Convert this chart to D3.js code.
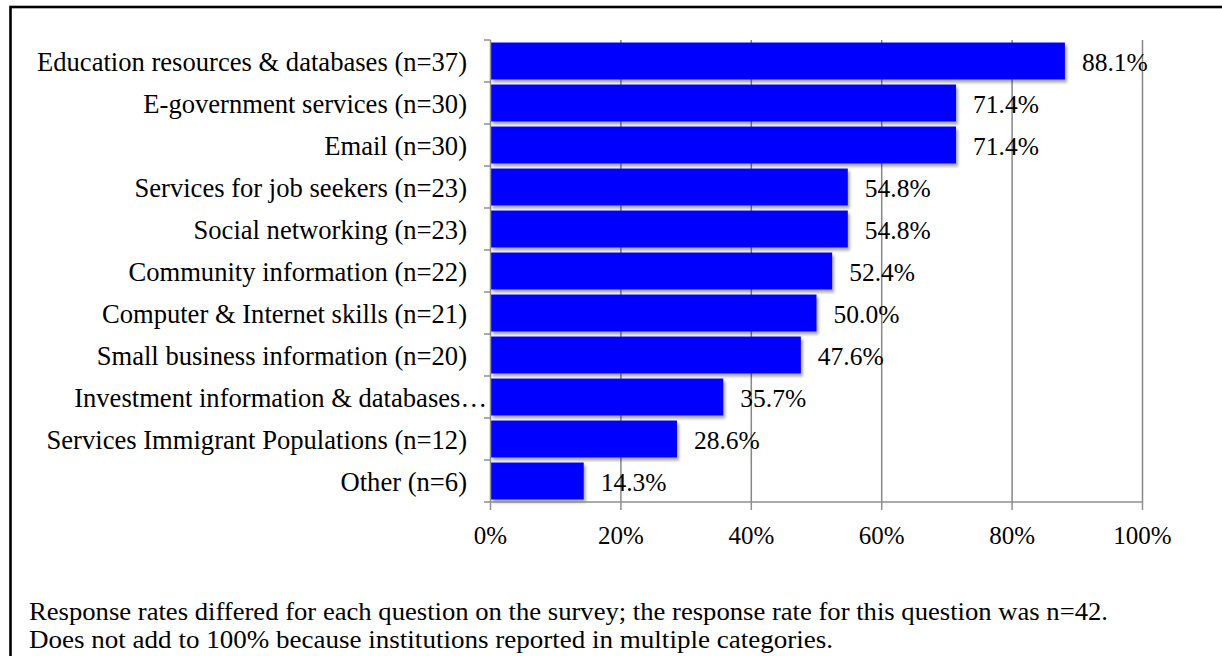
<!DOCTYPE html>
<html>
<head>
<meta charset="utf-8">
<script src="https://cdn.jsdelivr.net/npm/d3@7"></script>
<style>
  html, body { margin: 0; padding: 0; background: #fff; }
  svg { display: block; }
  svg text { font-family: "Liberation Serif", "Times New Roman", Times, serif; fill: #000; }
</style>
</head>
<body>
<svg id="chart" width="1222" height="656"></svg>
<script>
const categories = [
  "Education resources & databases (n=37)",
  "E-government services (n=30)",
  "Email (n=30)",
  "Services for job seekers (n=23)",
  "Social networking (n=23)",
  "Community information (n=22)",
  "Computer & Internet skills (n=21)",
  "Small business information (n=20)",
  "Investment information & databases…",
  "Services Immigrant Populations (n=12)",
  "Other (n=6)"
];
const values = [88.1, 71.4, 71.4, 54.8, 54.8, 52.4, 50.0, 47.6, 35.7, 28.6, 14.3];
const xTicks = [0, 20, 40, 60, 80, 100];
const notes = [
  "Response rates differed for each question on the survey; the response rate for this question was n=42.",
  "Does not add to 100% because institutions reported in multiple categories."
];

const svg = d3.select("#chart");
const FONT = '"Liberation Serif", "Times New Roman", Times, serif';

svg.append("rect")
  .attr("x", 10.5).attr("y", 7).attr("width", 1400).attr("height", 800)
  .attr("fill", "none").attr("stroke", "#000").attr("stroke-width", 2.6);

const x = d3.scaleLinear().domain([0, 100]).range([490.5, 1142.5]);
const y = d3.scaleBand().domain(categories).range([40, 502]).paddingInner(0.12).paddingOuter(0.06);

const defs = svg.append("defs");
const f = defs.append("filter").attr("id", "shadow")
  .attr("x", "-5%").attr("y", "-20%").attr("width", "115%").attr("height", "150%");
f.append("feDropShadow").attr("dx", 2).attr("dy", 3).attr("stdDeviation", 1.6)
  .attr("flood-color", "#000").attr("flood-opacity", 0.35);

svg.append("g").selectAll("line").data(xTicks.filter(d => d > 0)).join("line")
  .attr("x1", d => x(d)).attr("x2", d => x(d))
  .attr("y1", 40).attr("y2", 502)
  .attr("stroke", "#878787").attr("stroke-width", 1.5);

svg.append("g").selectAll("rect").data(values).join("rect")
  .attr("x", x(0))
  .attr("y", (d, i) => y(categories[i]))
  .attr("width", d => x(d) - x(0))
  .attr("height", y.bandwidth())
  .attr("fill", "#0000FF")
  .attr("filter", "url(#shadow)");

const ax = "#8f8f8f";
svg.append("line").attr("x1", x(0)).attr("x2", x(0)).attr("y1", 40).attr("y2", 502)
  .attr("stroke", ax).attr("stroke-width", 1.5);
const bounds = d3.range(categories.length + 1).map(i => 40 + i * y.step());
svg.append("g").selectAll("line").data(bounds).join("line")
  .attr("x1", x(0) - 6.5).attr("x2", x(0)).attr("y1", d => d).attr("y2", d => d)
  .attr("stroke", ax).attr("stroke-width", 1.5);

svg.append("line").attr("x1", x(0)).attr("x2", x(100)).attr("y1", 502).attr("y2", 502)
  .attr("stroke", ax).attr("stroke-width", 1.5);
svg.append("g").selectAll("line").data(xTicks).join("line")
  .attr("x1", d => x(d)).attr("x2", d => x(d)).attr("y1", 502).attr("y2", 510)
  .attr("stroke", ax).attr("stroke-width", 1.5);

function styleText(sel, size) {
  return sel.style("font-family", FONT).style("font-size", size).style("fill", "#000");
}

styleText(svg.append("g").selectAll("text").data(xTicks).join("text")
  .attr("x", d => x(d)).attr("y", 544)
  .attr("text-anchor", "middle")
  .text(d => d + "%"), "25px");

// truncated labels (ending with an ellipsis) overflow toward the axis
styleText(svg.append("g").selectAll("text").data(categories).join("text")
  .attr("x", d => d.endsWith("…") ? 487 : 467)
  .attr("y", d => y(d) + y.bandwidth() / 2 + 9.5)
  .attr("text-anchor", "end")
  .text(d => d), "26.6px");

styleText(svg.append("g").selectAll("text").data(values).join("text")
  .attr("x", d => x(d) + 17)
  .attr("y", (d, i) => y(categories[i]) + y.bandwidth() / 2 + 10)
  .text(d => d.toFixed(1) + "%"), "25.5px");

const noteLen = [1079, 804];
styleText(svg.append("g").selectAll("text").data(notes).join("text")
  .attr("x", 29).attr("y", (d, i) => 620 + i * 28)
  .attr("textLength", (d, i) => noteLen[i])
  .attr("lengthAdjust", "spacingAndGlyphs")
  .text(d => d), "26px");
</script>
</body>
</html>
